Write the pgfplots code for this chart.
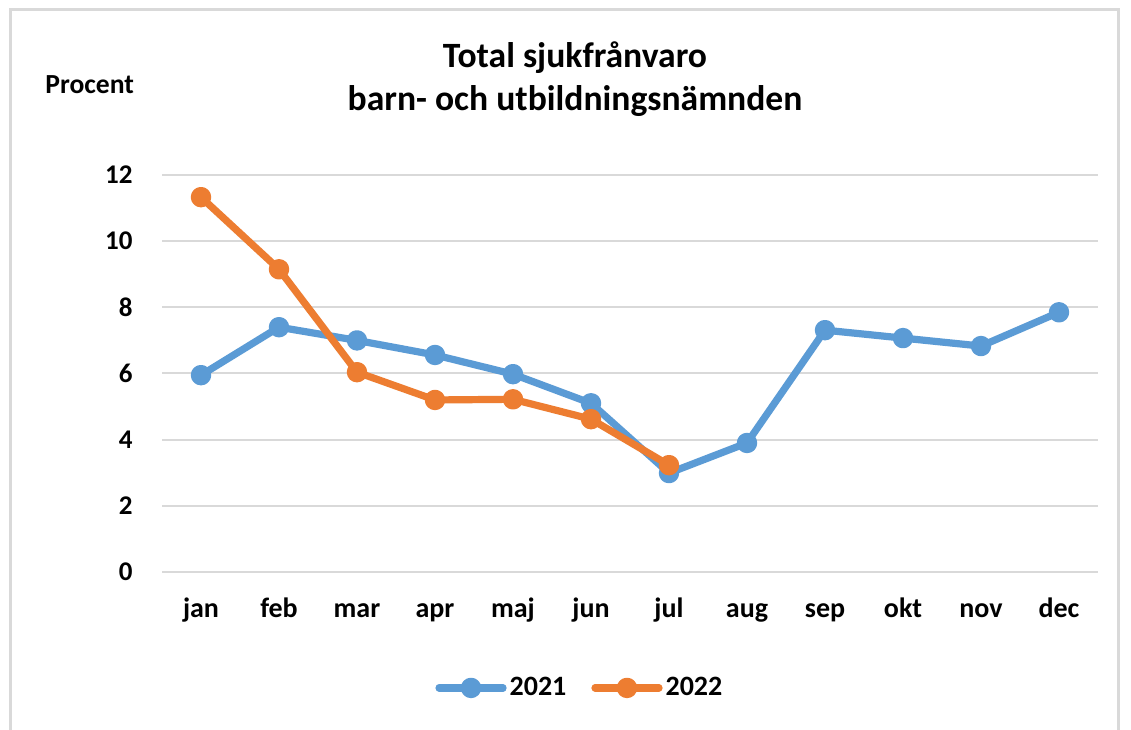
\documentclass[border=0pt]{standalone}
\usepackage{fontspec}
\setmainfont{Carlito}
\usepackage{pgfplots}
\pgfplotsset{compat=1.18}
\definecolor{c21}{HTML}{5B9BD5}
\definecolor{c22}{HTML}{ED7D31}
\definecolor{gridc}{HTML}{D9D9D9}
\begin{document}
\begin{tikzpicture}
\path[use as bounding box] (0,0) rectangle (565.5pt,364.5pt);
\fill[white] (0,0) rectangle (565.5pt,364.5pt);
\draw[gridc, line width=1.5pt] (5pt,-10pt) -- (5pt,359.5pt) -- (559pt,359.5pt) -- (559pt,-10pt);
\node[anchor=base, font=\bfseries\fontsize{17.8}{21}\selectfont] at (287.5pt,330.5pt) {Total sjukfrånvaro};
\node[anchor=base, font=\bfseries\fontsize{17.8}{21}\selectfont] at (287.5pt,309pt) {barn- och utbildningsnämnden};
\node[anchor=base west, inner sep=0pt, font=\bfseries\fontsize{13.8}{16}\selectfont] at (22.5pt,317.5pt) {Procent};
\begin{axis}[
  at={(81pt,78.5pt)}, anchor=south west,
  scale only axis, width=468pt, height=198.5pt,
  xmin=-0.5, xmax=11.5, ymin=0, ymax=12,
  xtick={0,...,11},
  xticklabels={jan,feb,mar,apr,maj,jun,jul,aug,sep,okt,nov,dec},
  ytick={0,2,...,12},
  axis line style={draw=none},
  major tick length=0pt,
  ymajorgrids, grid style={gridc, line width=1pt},
  /pgf/number format/assume math mode=true,
  tick label style={inner sep=0pt},
  yticklabel style={anchor=east, xshift=-14.5pt, font=\bfseries\fontsize{13.5}{15}\selectfont},
  xticklabel style={anchor=base, yshift=-22.5pt, font=\bfseries\fontsize{14}{16}\selectfont},
  clip=false,
  legend style={draw=none, fill=none, at={(0.447,-0.292)}, anchor=center,
    legend columns=2, font=\bfseries\fontsize{14}{16}\selectfont,
    /tikz/every even column/.append style={column sep=11pt},
    nodes={inner sep=1.5pt}},
  legend image code/.code={\draw[#1, mark repeat=2, mark phase=2] plot coordinates {(0pt,0pt) (16pt,0pt) (32pt,0pt)};},
]
\addplot[c21, line width=3.6pt, mark=*, mark size=3.3pt, line join=round, line cap=round]
  coordinates {(0,5.95) (1,7.40) (2,7.00) (3,6.56) (4,5.98) (5,5.10) (6,2.99) (7,3.90) (8,7.31) (9,7.07) (10,6.83) (11,7.85)};
\addlegendentry{2021}
\addplot[c22, line width=3.6pt, mark=*, mark size=3.3pt, line join=round, line cap=round]
  coordinates {(0,11.33) (1,9.15) (2,6.04) (3,5.20) (4,5.22) (5,4.62) (6,3.23)};
\addlegendentry{2022}
\end{axis}
\end{tikzpicture}
\end{document}
